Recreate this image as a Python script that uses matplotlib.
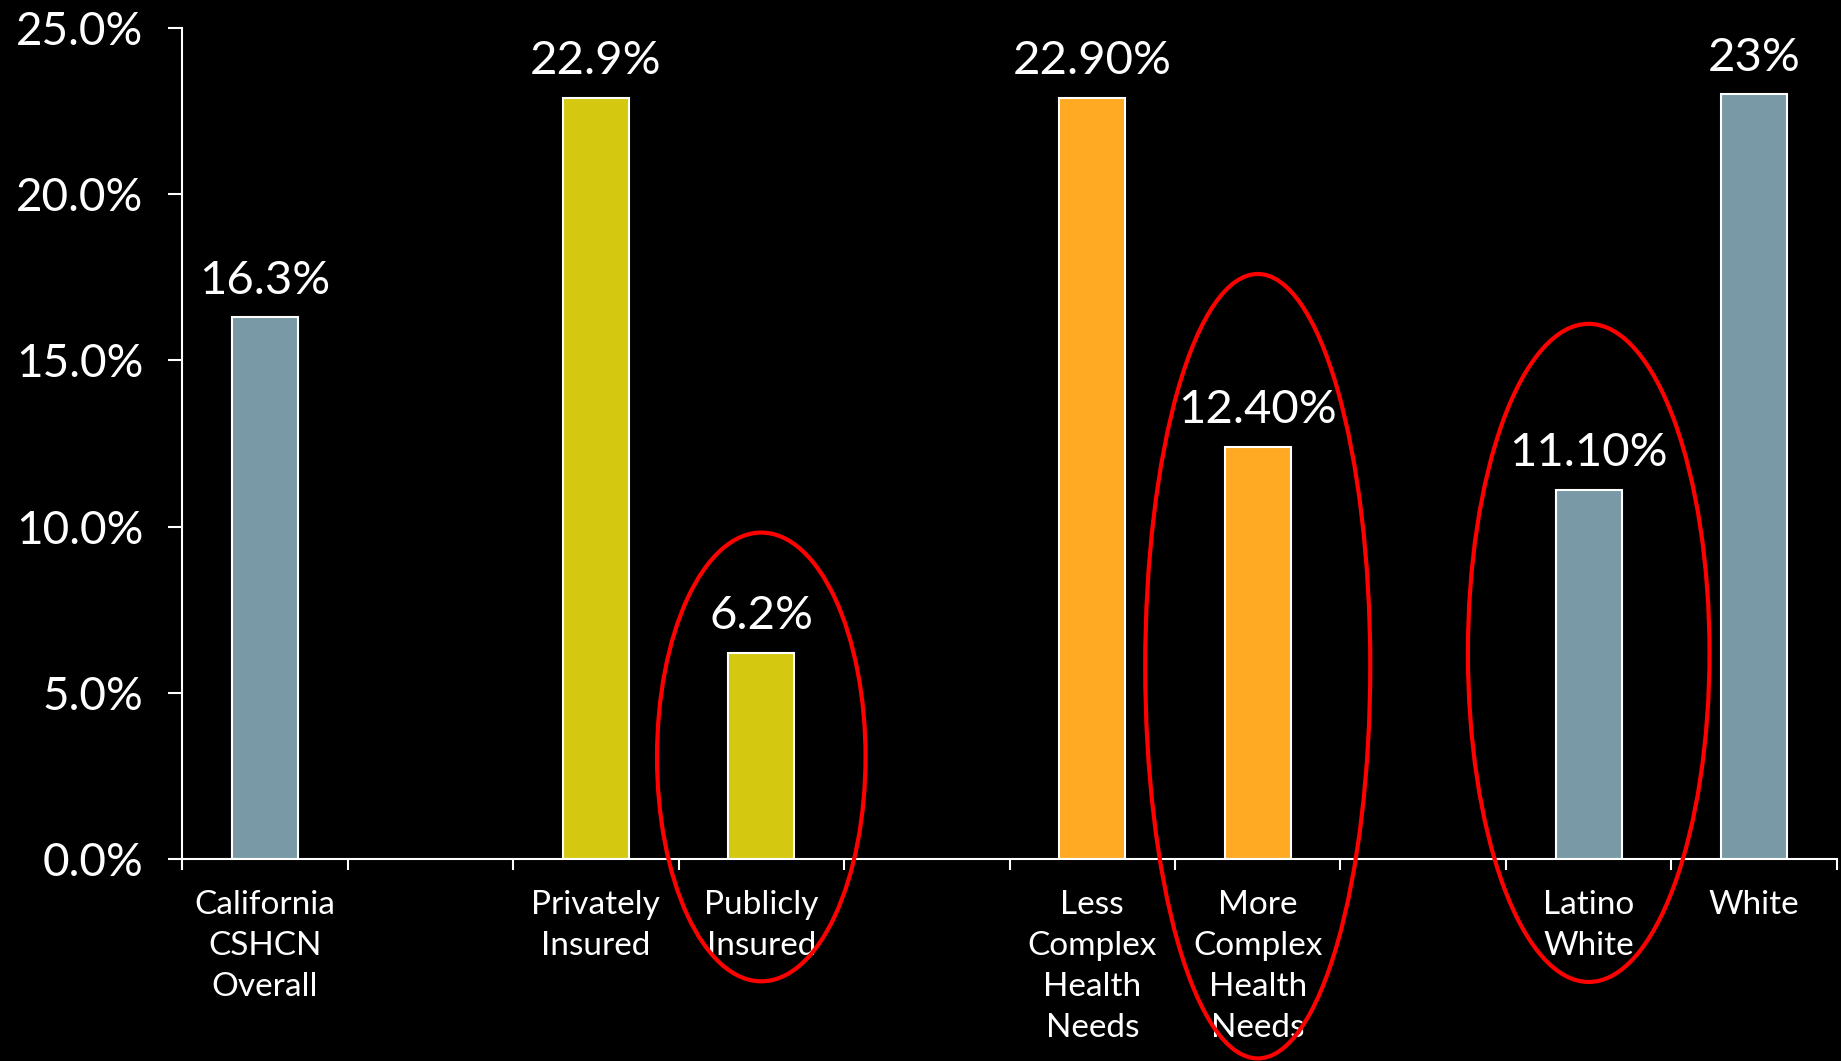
"""
CSHCN chart — share of children by group, with highlighted groups circled.
"""

import numpy as np
import matplotlib.pyplot as plt
from matplotlib.patches import Ellipse
from matplotlib.ticker import FixedLocator, PercentFormatter

plt.rcParams["font.family"] = ["Lato", "DejaVu Sans"]

# ── Data ──────────────────────────────────────────────────────────────
slots = [0, 2, 3, 5, 6, 8, 9]  # empty slots at 1, 4, 7
categories = [
    "California\nCSHCN\nOverall",
    "Privately\nInsured",
    "Publicly\nInsured",
    "Less\nComplex\nHealth\nNeeds",
    "More\nComplex\nHealth\nNeeds",
    "Latino\nWhite",
    "White",
]
values = [16.3, 22.9, 6.2, 22.9, 12.4, 11.1, 23.0]
value_labels = ["16.3%", "22.9%", "6.2%", "22.90%", "12.40%", "11.10%", "23%"]
colors = ["#7899A5", "#D4C811", "#D4C811", "#FFAA22", "#FFAA22", "#7899A5", "#7899A5"]

# highlighted groups: (center slot, center y, width in slots, height in %)
circles = [(3, 3.07, 1.26, 13.5), (6, 5.8, 1.36, 23.6), (8, 6.2, 1.46, 19.8)]

BG = "#000000"
FG = "#FFFFFF"

# ── Figure ───────────────────────────────────────────────────────────
fig = plt.figure(figsize=(18.41, 10.61), dpi=100, facecolor=BG)
ax = fig.add_axes([0.0989, 0.1904, 0.8989, 0.7832], facecolor=BG)

ax.bar(slots, values, width=0.4, color=colors, edgecolor=FG, linewidth=1.5, zorder=2)

for x, v, lab in zip(slots, values, value_labels):
    ax.annotate(lab, (x, v), xytext=(0, 17), textcoords="offset points",
                ha="center", va="baseline", color=FG, fontsize=34)

for cx, cy, w, h in circles:
    ax.add_patch(Ellipse((cx, cy), w, h, fill=False, edgecolor="#FF0000",
                         linewidth=3, clip_on=False, zorder=5))

ax.set_xlim(-0.5, 9.5)
ax.set_ylim(0, 25)

ax.xaxis.set_major_locator(FixedLocator(np.arange(-0.5, 10, 1)))
ax.xaxis.set_minor_locator(FixedLocator(slots))
ax.set_xticklabels([], minor=False)
ax.set_xticklabels(categories, minor=True, color=FG, fontsize=24,
                   linespacing=1.45, va="top", ha="center")
ax.tick_params(axis="x", which="major", direction="out", length=8, width=1.5, color=FG)
ax.tick_params(axis="x", which="minor", length=0, pad=22.5)

ax.set_yticks(np.arange(0, 26, 5))
ax.yaxis.set_major_formatter(PercentFormatter(decimals=1))
ax.tick_params(axis="y", direction="out", length=10, width=1.5, color=FG,
               labelcolor=FG, labelsize=33, pad=18)

for side in ["top", "right"]:
    ax.spines[side].set_visible(False)
for side in ["left", "bottom"]:
    ax.spines[side].set_color(FG)
    ax.spines[side].set_linewidth(1.5)

plt.savefig("out.png", dpi=100, facecolor=BG)
plt.close()
